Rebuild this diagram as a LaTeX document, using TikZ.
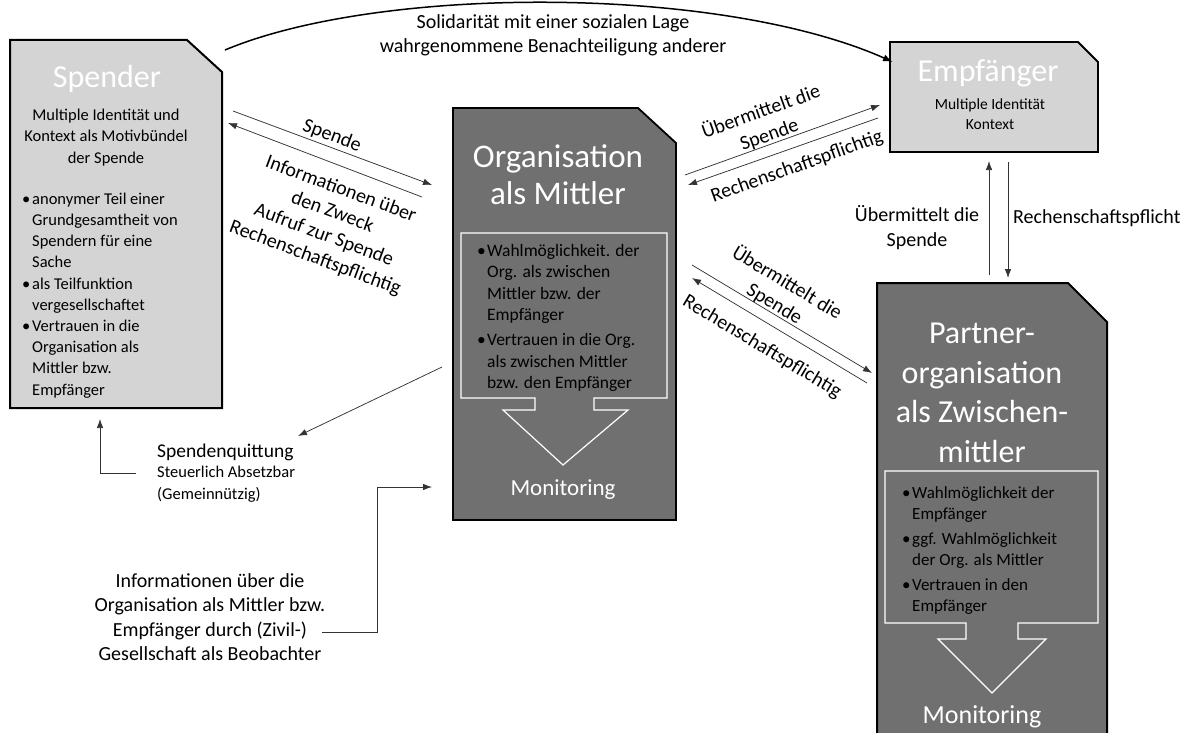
\documentclass[tikz,border=0pt]{standalone}
\usepackage{fontspec}
\setmainfont{Carlito}
\usetikzlibrary{arrows.meta}
\definecolor{hellgrau}{gray}{0.83}
\definecolor{dunkelgrau}{gray}{0.44}
\newcommand{\bul}{\makebox[10pt][l]{\textbullet}}
\newcommand{\ein}{\hspace*{10pt}}

\begin{document}
\begin{tikzpicture}[x=1pt,y=-1pt,
    titel/.style={text=white,font=\fontsize{32}{39.5}\selectfont,align=center,inner sep=0pt},
    klein/.style={font=\fontsize{16.5}{21.2}\selectfont,inner sep=0pt},
    beschr/.style={font=\fontsize{20}{24.5}\selectfont,align=center,inner sep=0pt},
    pfeil/.style={-{Latex[length=9pt,width=6.5pt]},line width=0.75pt,draw=black!80},
    rahmen/.style={draw=white,line width=1.2pt}]
\useasboundingbox (0,0) rectangle (1199,733);
\clip (0,0) rectangle (1199,733);
    {
    \def\spenderbox{(10,40) -- (187,40) -- (222,72) -- (222,408) -- (10,408) -- cycle}
    \def\empfbox{(890,42) -- (1078,42) -- (1098,62) -- (1098,152) -- (890,152) -- cycle}
    \def\orgbox{(453,108) -- (638,108) -- (676,143) -- (676,520) -- (453,520) -- cycle}
    \def\partnerbox{(877,283) -- (1068,283) -- (1107,322) -- (1107,745) -- (877,745) -- cycle}

    \fill[hellgrau] \spenderbox;
    \fill[hellgrau] \empfbox;
    \fill[dunkelgrau] \orgbox;
    \fill[dunkelgrau] \partnerbox;

    \draw[line width=2pt] \spenderbox;
    \draw[line width=1.8pt] \empfbox;
    \draw[line width=1.8pt] \orgbox;
    \draw[line width=2pt] \partnerbox;

    \draw[rahmen] (461,233) -- (667,233) -- (667,398) -- (594,398) -- (594,410) -- (628,410)
        -- (563,465) -- (503,410) -- (535,410) -- (535,398) -- (461,398) -- cycle;
    \draw[rahmen] (885,471) -- (1098,471) -- (1098,623) -- (1018,623) -- (1018,639) -- (1046,639)
        -- (992,693) -- (938,639) -- (966,639) -- (966,623) -- (885,623) -- cycle;
}

    \node[titel,anchor=base] (spender) at (107,88) {Spender};
    \node[klein,align=center,anchor=base] (motiv) at (106,163)
        {Multiple Identität und\\Kontext als Motivbündel\\der Spende};
    \node[klein,align=left,anchor=base west] (spenderliste) at (22,395)
        {\bul anonymer Teil einer\\\ein Grundgesamtheit von\\\ein Spendern für eine\\\ein Sache\\
         \bul als Teilfunktion\\\ein vergesellschaftet\\
         \bul Vertrauen in die\\\ein Organisation als\\\ein Mittler bzw.\\\ein Empfänger};

    \node[titel,anchor=base] (empfaenger) at (988,82) {Empfänger};
    \node[align=center,anchor=base,inner sep=0pt,font=\fontsize{15.5}{20}\selectfont] (kontext) at (990,129)
        {Multiple Identität\\Kontext};

    \node[titel,anchor=base,font=\fontsize{33}{36}\selectfont] (org) at (558,204) {Organisation\\als Mittler};
    \node[align=left,anchor=base west,inner sep=0pt,font=\fontsize{17.5}{21.5}\selectfont] (orgliste) at (477,388.5)
        {\bul Wahlmöglichkeit. der\\\ein Org. als zwischen\\\ein Mittler bzw. der\\\ein Empfänger\\[3.5pt]
         \bul Vertrauen in die Org.\\\ein als zwischen Mittler\\\ein bzw. den Empfänger};
    \node[titel,anchor=base,font=\fontsize{23}{28}\selectfont] (orgmon) at (563,495) {Monitoring};

    \node[titel,anchor=base] (partner) at (982,462) {Partner-\\organisation\\als Zwischen-\\mittler};
    \node[align=left,anchor=base west,inner sep=0pt,font=\fontsize{17}{21}\selectfont] (partnerliste) at (902,611)
        {\bul Wahlmöglichkeit der\\\ein Empfänger\\[4pt]
         \bul ggf. Wahlmöglichkeit\\\ein der Org. als Mittler\\[4pt]
         \bul Vertrauen in den\\\ein Empfänger};
    \node[titel,anchor=base,font=\fontsize{26}{30}\selectfont] (partnermon) at (982,723) {Monitoring};

    \node[beschr,anchor=base] (solidar) at (553,53)
        {Solidarität mit einer sozialen Lage\\wahrgenommene Benachteiligung anderer};
    \node[beschr,rotate=-20.4] (spendelab) at (332,136) {Spende};
    \node[beschr,rotate=-20.4] (infolab) at (328,224)
        {Informationen über\\den Zweck\\Aufruf zur Spende\\Rechenschaftspflichtig};
    \node[beschr,rotate=19.7] (uebermlab1) at (765,123) {Übermittelt die\\Spende};
    \node[beschr,rotate=19.7] (rechlab1) at (797,167) {Rechenschaftspflichtig};
    \node[beschr,rotate=-31] (uebermlab2) at (781,293) {Übermittelt die\\Spende};
    \node[beschr,rotate=-31] (rechlab2) at (762,347) {Rechenschaftspflichtig};
    \node[beschr,anchor=base] (uebermlab3) at (917,246) {Übermittelt die\\Spende};
    \node[beschr,anchor=base west] (rechlab3) at (1013,223) {Rechenschaftspflicht};

    \node[anchor=base west,inner sep=0pt,font=\fontsize{19.5}{22}\selectfont] (quittung) at (157,457) {Spendenquittung};
    \node[klein,align=left,anchor=base west] (steuer) at (157,499) {Steuerlich Absetzbar\\(Gemeinnützig)};
    \node[beschr,anchor=base] (beobachter) at (210,660.5)
        {Informationen über die\\Organisation als Mittler bzw.\\Empfänger durch (Zivil-)\\Gesellschaft als Beobachter};

    \coordinate (s-oben) at (225,50);
    \coordinate (e-oben) at (893,62);
    \coordinate (s-spende) at (233,111);
    \coordinate (o-spende) at (432,185);
    \coordinate (o-info) at (422,197);
    \coordinate (s-info) at (228,123);
    \coordinate (o-ueber1) at (685,175);
    \coordinate (e-ueber1) at (880,105);
    \coordinate (e-rech1) at (878,118);
    \coordinate (o-rech1) at (688,185);
    \coordinate (o-ueber2) at (692,265);
    \coordinate (p-ueber2) at (872,373);
    \coordinate (p-rech2) at (867,383);
    \coordinate (o-rech2) at (692,278);
    \coordinate (p-ueber3) at (989,275);
    \coordinate (e-ueber3) at (989,161);
    \coordinate (e-rech3) at (1008,162);
    \coordinate (p-rech3) at (1008,278);
    \coordinate (o-quitt) at (442,367);
    \coordinate (q-quitt) at (298,436);
    \coordinate (q-ecke) at (136,473);
    \coordinate (s-quitt) at (100,419);
    \coordinate (b-ecke) at (322,632);
    \coordinate (b-knick) at (377,487);
    \coordinate (o-beob) at (432,487);

    \draw[-{Latex[length=10pt,width=7pt]},line width=1.5pt] (s-oben) .. controls (380,-15) and (720,-15) .. (e-oben);
    \draw[pfeil] (s-spende) -- (o-spende);
    \draw[pfeil] (o-info) -- (s-info);
    \draw[pfeil] (o-ueber1) -- (e-ueber1);
    \draw[pfeil] (e-rech1) -- (o-rech1);
    \draw[pfeil] (o-ueber2) -- (p-ueber2);
    \draw[pfeil] (p-rech2) -- (o-rech2);
    \draw[pfeil] (p-ueber3) -- (e-ueber3);
    \draw[pfeil] (e-rech3) -- (p-rech3);
    \draw[pfeil] (o-quitt) -- (q-quitt);
    \draw[pfeil] (q-ecke) -| (s-quitt);
    \draw[pfeil] (b-ecke) -| (b-knick) -- (o-beob);
\end{tikzpicture}
\end{document}
